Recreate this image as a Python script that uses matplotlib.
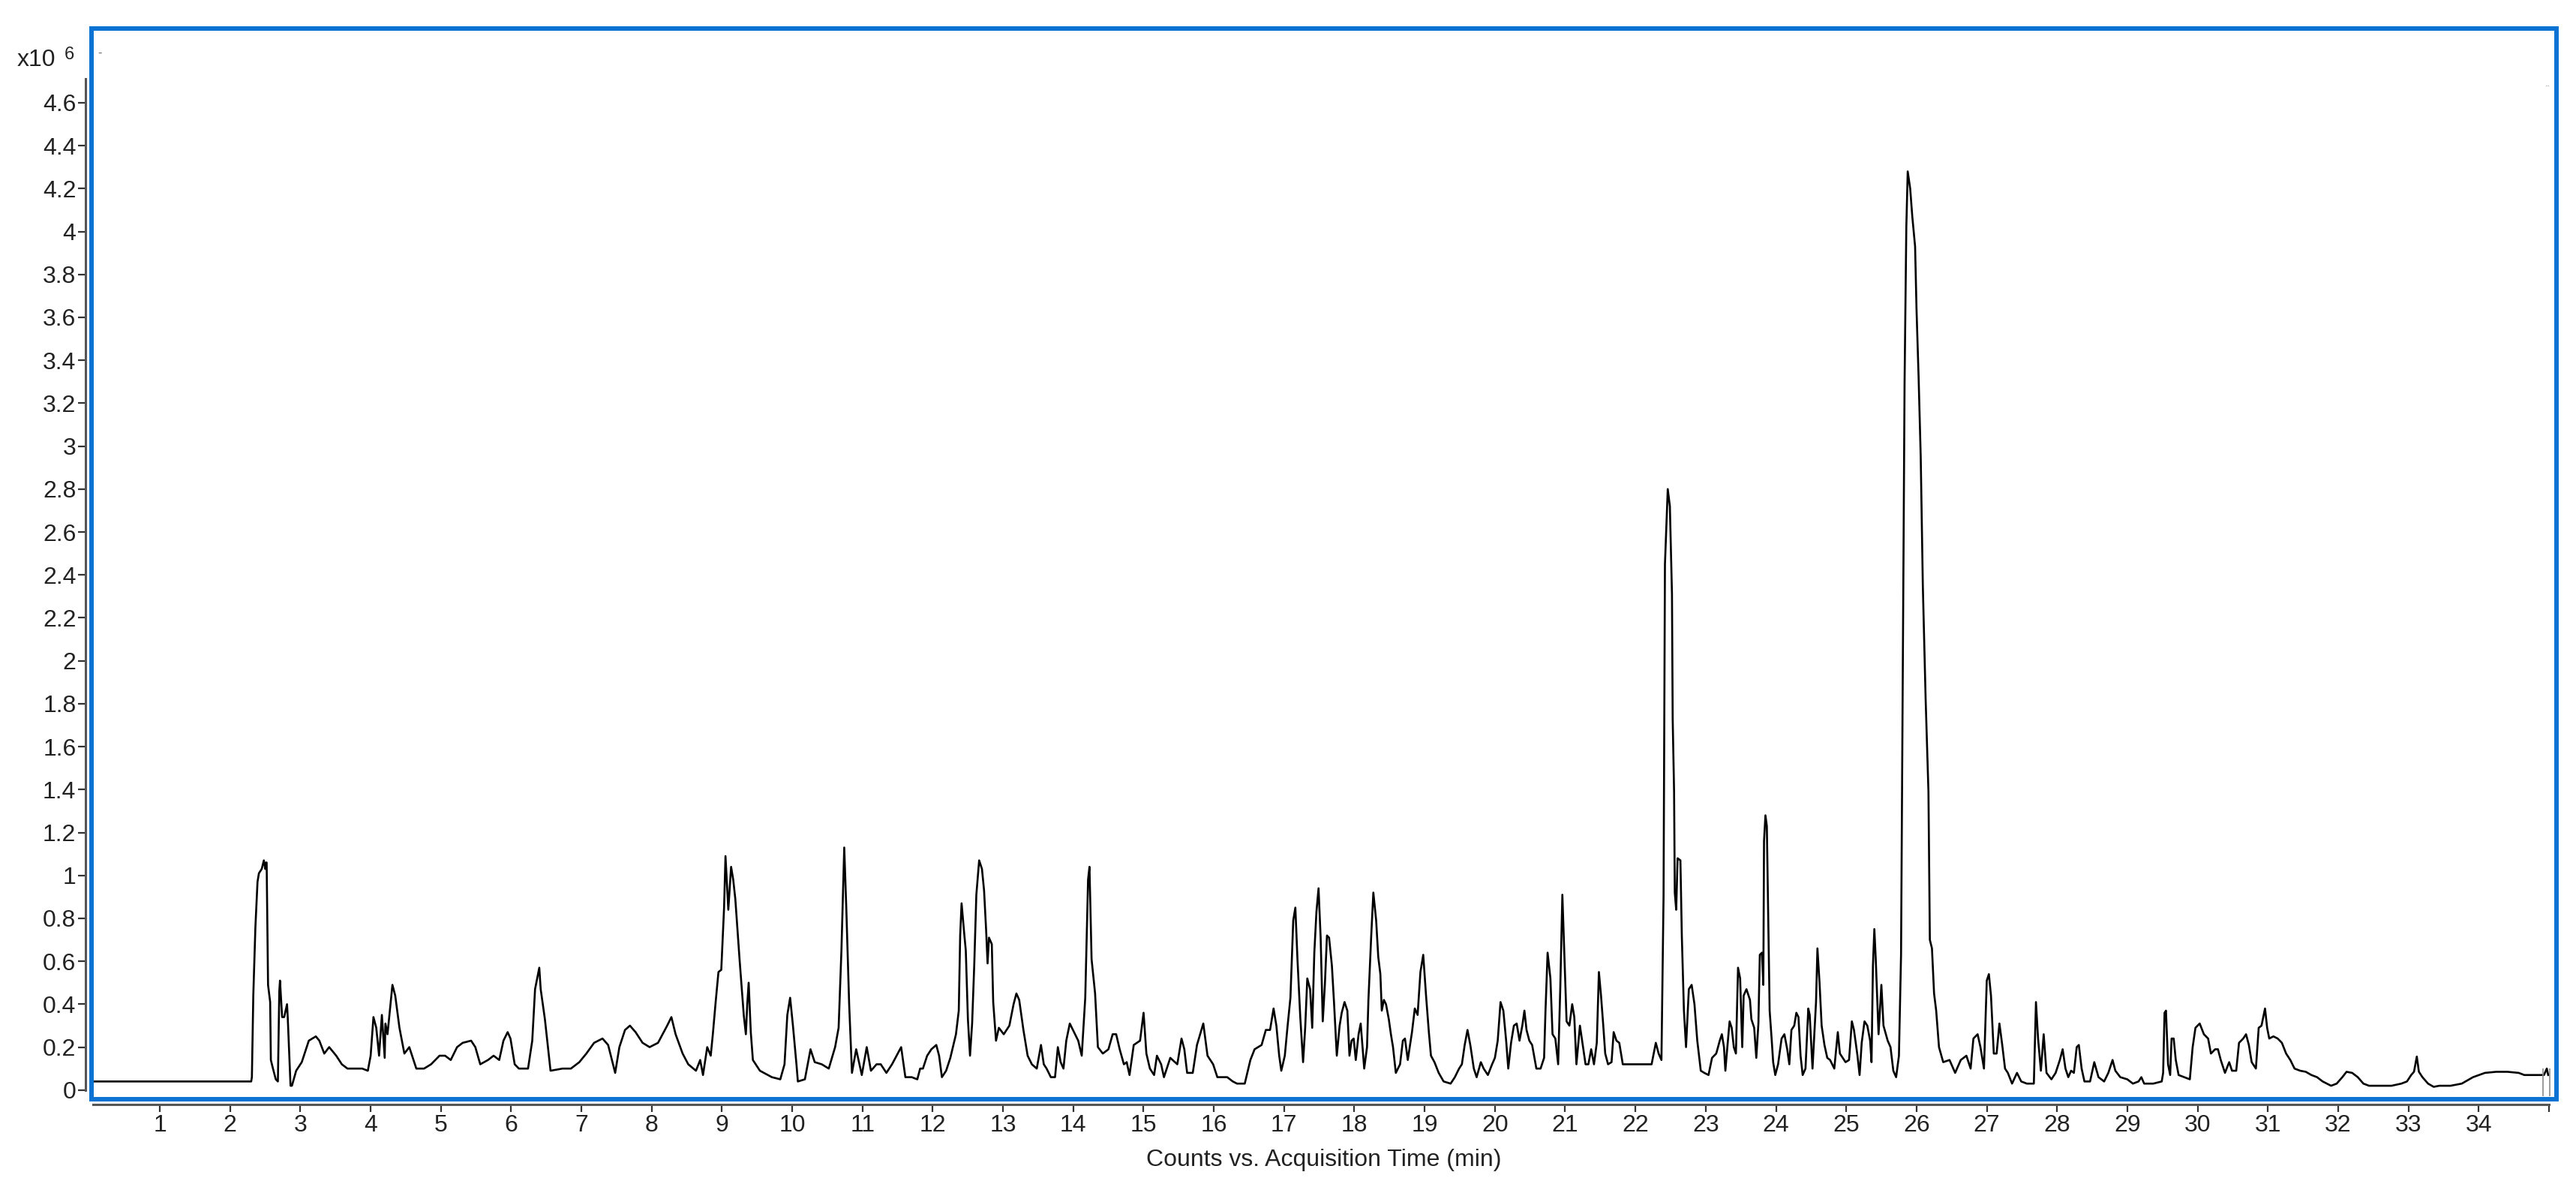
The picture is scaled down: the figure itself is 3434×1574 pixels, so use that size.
import numpy as np
import matplotlib
matplotlib.use("Agg")
import matplotlib.pyplot as plt
from matplotlib.patches import Rectangle

# retention time (min), counts (x10^6)
seg_0_6 = [(0.05, 0.04), (2.30, 0.04), (2.31, 0.06), (2.33, 0.44), (2.36, 0.76), (2.39, 0.97), (2.41, 1.01),
           (2.45, 1.03), (2.48, 1.07), (2.50, 1.03), (2.51, 1.06), (2.52, 1.06), (2.54, 0.49), (2.57, 0.41),
           (2.58, 0.14), (2.61, 0.10), (2.65, 0.05), (2.68, 0.04), (2.70, 0.46), (2.71, 0.51), (2.74, 0.34),
           (2.77, 0.34), (2.81, 0.40), (2.82, 0.34), (2.86, 0.02), (2.88, 0.02), (2.94, 0.09), (3.02, 0.13),
           (3.06, 0.17), (3.12, 0.23), (3.22, 0.25), (3.27, 0.23), (3.34, 0.17), (3.41, 0.20), (3.51, 0.16),
           (3.59, 0.12), (3.67, 0.10), (3.88, 0.10), (3.96, 0.09), (4.00, 0.16), (4.04, 0.34), (4.08, 0.29),
           (4.12, 0.16), (4.16, 0.35), (4.20, 0.15), (4.21, 0.31), (4.24, 0.26), (4.27, 0.36), (4.31, 0.49),
           (4.35, 0.44), (4.41, 0.29), (4.48, 0.17), (4.55, 0.20), (4.65, 0.10), (4.76, 0.10), (4.86, 0.12),
           (4.98, 0.16), (5.06, 0.16), (5.14, 0.14), (5.23, 0.20), (5.31, 0.22), (5.43, 0.23), (5.49, 0.20),
           (5.56, 0.12), (5.67, 0.14)]

seg_6_12 = [(5.75, 0.16), (5.83, 0.14), (5.89, 0.23), (5.95, 0.27), (5.99, 0.24), (6.05, 0.12), (6.11, 0.10),
            (6.24, 0.10), (6.30, 0.23), (6.34, 0.47), (6.40, 0.57), (6.42, 0.47), (6.48, 0.33), (6.56, 0.09),
            (6.73, 0.10), (6.85, 0.10), (6.97, 0.13), (7.07, 0.17), (7.18, 0.22), (7.30, 0.24), (7.38, 0.21),
            (7.48, 0.08), (7.54, 0.20), (7.62, 0.28), (7.69, 0.30), (7.77, 0.27), (7.87, 0.22), (7.97, 0.20),
            (8.09, 0.22), (8.22, 0.30), (8.28, 0.34), (8.34, 0.26), (8.44, 0.17), (8.52, 0.12), (8.63, 0.09),
            (8.69, 0.14), (8.73, 0.07), (8.79, 0.20), (8.84, 0.16), (8.87, 0.26), (8.91, 0.41), (8.95, 0.55),
            (8.99, 0.56), (9.03, 0.85), (9.05, 1.09), (9.09, 0.84), (9.13, 1.04), (9.16, 0.98), (9.19, 0.89),
            (9.22, 0.75), (9.25, 0.61), (9.28, 0.48), (9.31, 0.35), (9.34, 0.26), (9.36, 0.40), (9.38, 0.50),
            (9.41, 0.27), (9.44, 0.14), (9.54, 0.09), (9.71, 0.06), (9.83, 0.05), (9.89, 0.12), (9.93, 0.35),
            (9.97, 0.43), (10.01, 0.30), (10.06, 0.12), (10.08, 0.04), (10.18, 0.05), (10.22, 0.12), (10.26, 0.19),
            (10.32, 0.13), (10.42, 0.12), (10.52, 0.10), (10.61, 0.20), (10.66, 0.29), (10.70, 0.65), (10.74, 1.13),
            (10.77, 0.84), (10.81, 0.40), (10.85, 0.08), (10.91, 0.19), (10.99, 0.07), (11.06, 0.20), (11.12, 0.09),
            (11.20, 0.12), (11.26, 0.12), (11.34, 0.08), (11.42, 0.12), (11.55, 0.20), (11.61, 0.06)]

seg_12_17 = [(11.70, 0.06), (11.78, 0.05), (11.82, 0.10), (11.86, 0.10), (11.92, 0.16), (11.98, 0.19), (12.05, 0.21),
             (12.09, 0.16), (12.13, 0.06), (12.19, 0.09), (12.25, 0.15), (12.33, 0.26), (12.37, 0.37), (12.39, 0.72),
             (12.41, 0.87), (12.45, 0.72), (12.47, 0.65), (12.50, 0.33), (12.53, 0.16), (12.56, 0.31), (12.59, 0.58),
             (12.62, 0.91), (12.66, 1.07), (12.70, 1.03), (12.73, 0.93), (12.76, 0.74), (12.78, 0.59), (12.80, 0.71),
             (12.84, 0.68), (12.86, 0.41), (12.90, 0.23), (12.94, 0.29), (13.01, 0.26), (13.09, 0.30), (13.15, 0.40),
             (13.19, 0.45), (13.23, 0.42), (13.29, 0.28), (13.35, 0.16), (13.41, 0.12), (13.48, 0.10), (13.54, 0.21),
             (13.58, 0.12), (13.62, 0.10), (13.68, 0.06), (13.74, 0.06), (13.78, 0.20), (13.82, 0.13), (13.86, 0.10),
             (13.90, 0.23), (13.95, 0.31), (14.01, 0.27), (14.07, 0.23), (14.12, 0.16), (14.17, 0.43), (14.21, 0.98),
             (14.23, 1.04), (14.26, 0.61), (14.31, 0.45), (14.35, 0.20), (14.42, 0.17), (14.50, 0.19), (14.56, 0.26),
             (14.61, 0.26), (14.66, 0.19), (14.72, 0.12), (14.76, 0.13), (14.80, 0.07), (14.86, 0.21), (14.95, 0.23),
             (15.00, 0.36), (15.04, 0.17), (15.09, 0.10), (15.15, 0.07), (15.19, 0.16), (15.25, 0.12), (15.29, 0.06),
             (15.38, 0.15), (15.48, 0.12), (15.54, 0.24), (15.58, 0.19), (15.62, 0.08), (15.70, 0.08), (15.76, 0.21),
             (15.85, 0.31), (15.91, 0.16), (15.99, 0.12), (16.05, 0.06), (16.13, 0.06), (16.19, 0.06), (16.27, 0.04),
             (16.33, 0.03), (16.44, 0.03), (16.52, 0.14), (16.58, 0.19), (16.68, 0.21), (16.74, 0.28), (16.80, 0.28),
             (16.85, 0.38), (16.89, 0.30), (16.93, 0.16), (16.96, 0.09), (17.01, 0.16), (17.05, 0.30), (17.09, 0.43),
             (17.13, 0.79), (17.16, 0.85), (17.19, 0.61), (17.23, 0.34), (17.27, 0.13), (17.30, 0.29), (17.33, 0.52),
             (17.37, 0.47), (17.40, 0.29)]

seg_17_23 = [(17.43, 0.64), (17.46, 0.83), (17.49, 0.94), (17.52, 0.71), (17.55, 0.32), (17.58, 0.49), (17.61, 0.72),
             (17.64, 0.71), (17.68, 0.58), (17.71, 0.41), (17.75, 0.16), (17.79, 0.30), (17.82, 0.36), (17.86, 0.41),
             (17.90, 0.37), (17.93, 0.16), (17.96, 0.23), (17.99, 0.24), (18.02, 0.14), (18.06, 0.26), (18.09, 0.31),
             (18.14, 0.10), (18.18, 0.20), (18.20, 0.42), (18.24, 0.72), (18.27, 0.92), (18.31, 0.79), (18.34, 0.62),
             (18.37, 0.54), (18.39, 0.37), (18.42, 0.42), (18.45, 0.40), (18.49, 0.33), (18.52, 0.26), (18.55, 0.20),
             (18.59, 0.08), (18.65, 0.12), (18.69, 0.23), (18.72, 0.24), (18.76, 0.14), (18.82, 0.27), (18.86, 0.38),
             (18.90, 0.35), (18.94, 0.55), (18.98, 0.63), (19.02, 0.44), (19.06, 0.27), (19.09, 0.16), (19.14, 0.13),
             (19.20, 0.08), (19.27, 0.04), (19.37, 0.03), (19.43, 0.06), (19.49, 0.10), (19.53, 0.12), (19.57, 0.21),
             (19.61, 0.28), (19.65, 0.21), (19.70, 0.10), (19.74, 0.06), (19.80, 0.13), (19.84, 0.10), (19.90, 0.07),
             (19.96, 0.12), (20.00, 0.15), (20.04, 0.23), (20.08, 0.41), (20.12, 0.37), (20.16, 0.23), (20.19, 0.10),
             (20.23, 0.22), (20.27, 0.30), (20.31, 0.31), (20.35, 0.23), (20.39, 0.30), (20.42, 0.37), (20.45, 0.28),
             (20.49, 0.23), (20.53, 0.21), (20.59, 0.10), (20.65, 0.10), (20.70, 0.15), (20.72, 0.37), (20.75, 0.64),
             (20.79, 0.52), (20.82, 0.26), (20.86, 0.24), (20.90, 0.12), (20.93, 0.47), (20.96, 0.91), (20.99, 0.62),
             (21.02, 0.32), (21.06, 0.30), (21.10, 0.40), (21.13, 0.34), (21.16, 0.12), (21.21, 0.30), (21.25, 0.21),
             (21.29, 0.12), (21.33, 0.12), (21.37, 0.19), (21.41, 0.12), (21.45, 0.22), (21.48, 0.55), (21.51, 0.44),
             (21.54, 0.31), (21.57, 0.17), (21.61, 0.12), (21.66, 0.13), (21.69, 0.27), (21.73, 0.23), (21.77, 0.22),
             (21.82, 0.12), (21.90, 0.12), (22.06, 0.12), (22.23, 0.12), (22.29, 0.22), (22.33, 0.17), (22.37, 0.14),
             (22.40, 0.90), (22.42, 2.45), (22.46, 2.80), (22.49, 2.72), (22.52, 2.31), (22.53, 1.73), (22.55, 1.39),
             (22.56, 0.92), (22.58, 0.84), (22.60, 1.08), (22.64, 1.07), (22.66, 0.72), (22.69, 0.37), (22.72, 0.20),
             (22.76, 0.47), (22.80, 0.49), (22.84, 0.40), (22.88, 0.23), (22.93, 0.09), (22.98, 0.08), (23.04, 0.07),
             (23.09, 0.15), (23.15, 0.17), (23.20, 0.23), (23.23, 0.26), (23.26, 0.20)]

seg_23_29 = [(23.28, 0.09), (23.30, 0.17), (23.34, 0.32), (23.37, 0.29), (23.40, 0.20), (23.43, 0.17), (23.46, 0.57),
             (23.49, 0.52), (23.52, 0.20), (23.54, 0.44), (23.58, 0.47), (23.63, 0.42), (23.65, 0.33), (23.69, 0.29),
             (23.72, 0.15), (23.75, 0.31), (23.77, 0.63), (23.80, 0.64), (23.82, 0.49), (23.83, 1.16), (23.85, 1.28),
             (23.87, 1.23), (23.89, 0.81), (23.91, 0.37), (23.94, 0.23), (23.96, 0.13), (23.99, 0.07), (24.03, 0.12),
             (24.08, 0.24), (24.12, 0.26), (24.16, 0.19), (24.19, 0.12), (24.22, 0.28), (24.26, 0.30), (24.29, 0.36),
             (24.32, 0.34), (24.35, 0.16), (24.38, 0.07), (24.42, 0.10), (24.46, 0.38), (24.48, 0.35), (24.52, 0.10),
             (24.57, 0.41), (24.59, 0.66), (24.62, 0.50), (24.65, 0.30), (24.69, 0.21), (24.73, 0.15), (24.77, 0.14),
             (24.83, 0.10), (24.88, 0.27), (24.91, 0.17), (24.95, 0.15), (24.99, 0.13), (25.04, 0.14), (25.08, 0.32),
             (25.11, 0.28), (25.16, 0.16), (25.19, 0.07), (25.22, 0.22), (25.26, 0.32), (25.30, 0.30), (25.34, 0.23),
             (25.36, 0.13), (25.38, 0.58), (25.40, 0.75), (25.42, 0.61), (25.46, 0.26), (25.50, 0.49), (25.53, 0.30),
             (25.59, 0.23), (25.63, 0.20), (25.67, 0.09), (25.71, 0.06), (25.75, 0.16), (25.78, 0.63), (25.83, 3.29),
             (25.855, 4.02), (25.875, 4.28), (25.91, 4.20), (25.94, 4.07), (25.98, 3.93), (26.00, 3.64), (26.03, 3.32),
             (26.06, 2.95), (26.09, 2.35), (26.13, 1.82), (26.17, 1.39), (26.19, 0.70), (26.22, 0.66), (26.25, 0.45),
             (26.28, 0.37), (26.32, 0.20), (26.38, 0.13), (26.47, 0.14), (26.55, 0.08), (26.63, 0.14), (26.71, 0.16),
             (26.77, 0.10), (26.81, 0.24), (26.87, 0.26), (26.91, 0.20), (26.96, 0.10), (27.00, 0.51), (27.03, 0.54),
             (27.06, 0.44), (27.10, 0.17), (27.14, 0.17), (27.18, 0.31), (27.22, 0.21), (27.26, 0.10), (27.30, 0.08),
             (27.36, 0.03), (27.43, 0.08), (27.49, 0.04), (27.57, 0.03), (27.67, 0.03), (27.70, 0.41), (27.73, 0.24),
             (27.77, 0.09), (27.81, 0.26), (27.85, 0.08), (27.92, 0.05), (27.98, 0.08), (28.04, 0.14), (28.08, 0.19),
             (28.12, 0.10), (28.16, 0.06), (28.20, 0.09), (28.24, 0.08), (28.28, 0.20), (28.31, 0.21), (28.35, 0.10),
             (28.39, 0.04), (28.47, 0.04), (28.53, 0.13), (28.59, 0.06), (28.67, 0.04), (28.73, 0.08), (28.79, 0.14),
             (28.83, 0.09), (28.90, 0.06), (29.00, 0.05), (29.08, 0.03), (29.16, 0.04), (29.20, 0.06), (29.24, 0.03),
             (29.37, 0.03), (29.49, 0.04)]

seg_29_35 = [(29.51, 0.08), (29.53, 0.36), (29.55, 0.37), (29.58, 0.12), (29.61, 0.07), (29.63, 0.24), (29.66, 0.24),
             (29.69, 0.14), (29.73, 0.07), (29.81, 0.06), (29.89, 0.05), (29.93, 0.20), (29.97, 0.29), (30.03, 0.31),
             (30.09, 0.26), (30.15, 0.24), (30.19, 0.17), (30.25, 0.19), (30.29, 0.19), (30.33, 0.14), (30.39, 0.08),
             (30.45, 0.13), (30.49, 0.09), (30.55, 0.09), (30.59, 0.22), (30.65, 0.24), (30.69, 0.26), (30.73, 0.21),
             (30.77, 0.13), (30.83, 0.10), (30.87, 0.29), (30.91, 0.30), (30.96, 0.38), (30.99, 0.29), (31.02, 0.24),
             (31.08, 0.25), (31.14, 0.24), (31.20, 0.22), (31.26, 0.17), (31.32, 0.14), (31.38, 0.10), (31.46, 0.09),
             (31.54, 0.085), (31.62, 0.07), (31.70, 0.06), (31.78, 0.04), (31.90, 0.02), (31.98, 0.03), (32.06, 0.06),
             (32.12, 0.085), (32.20, 0.08), (32.28, 0.06), (32.36, 0.03), (32.44, 0.02), (32.60, 0.02), (32.76, 0.02),
             (32.90, 0.03), (32.98, 0.04), (33.04, 0.07), (33.08, 0.085), (33.12, 0.156), (33.15, 0.085), (33.20, 0.06),
             (33.28, 0.03), (33.36, 0.015), (33.44, 0.02), (33.60, 0.02), (33.76, 0.03), (33.92, 0.06), (34.09, 0.08),
             (34.25, 0.085), (34.41, 0.085), (34.57, 0.08), (34.65, 0.07), (34.81, 0.07), (34.93, 0.07), (34.97, 0.10),
             (34.99, 0.07)]

end_marks = [34.92, 35.01]
x_ticks = list(range(1, 36))
x_labels = [str(i) for i in range(1, 35)] + [""]
y_ticks = [round(0.2 * i, 1) for i in range(24)]

trace = np.array(seg_0_6 + seg_6_12 + seg_12_17 + seg_17_23 + seg_23_29 + seg_29_35)
rt = trace[:, 0]
counts = trace[:, 1]

plt.rcParams['font.family'] = ['Liberation Sans', 'DejaVu Sans']
blue = '#0a72d2'
axis_grey = '#555555'

fig = plt.figure(figsize=(34.34, 15.74), dpi=100)
ax = fig.add_axes([0.0354, 0.0692, 0.9570, 0.9067])

ax.plot(rt, counts, color='black', lw=1.9)
ax.vlines(end_marks, -0.03, 0.1, color='#8a8a8a', lw=1.2)

ax.set_xlim(0.023, 35.107)
ax.set_ylim(-0.043, 4.946)

for s in ['top', 'right']:
    ax.spines[s].set_visible(False)
ax.spines['left'].set_position(('outward', 5.5))
ax.spines['bottom'].set_position(('outward', 5))
ax.spines['left'].set_bounds(0, 4.71)
ax.spines['bottom'].set_bounds(0.05, 35.0)
for s in ['left', 'bottom']:
    ax.spines[s].set_color(axis_grey)
    ax.spines[s].set_linewidth(2.2)

ax.set_xticks(x_ticks)
ax.set_xticklabels(x_labels)
ax.set_yticks(y_ticks)
ax.set_yticklabels([f"{v:g}" for v in y_ticks])
ax.tick_params(axis='both', colors='#222222', labelsize=23, width=1.6, length=7, pad=2)
ax.tick_params(axis='both', color='#333333')

ax.set_xlabel('Counts vs. Acquisition Time (min)', fontsize=23, color='#222222', labelpad=12)

ax.add_patch(Rectangle((0, 0), 1, 1, transform=ax.transAxes, fill=False,
                       edgecolor=blue, lw=4.3, clip_on=False, zorder=5))

fig.text(0.0067, 0.944, 'x10', fontsize=23, color='#222222', ha='left', va='baseline')
fig.text(0.0250, 0.950, '6', fontsize=17, color='#222222', ha='left', va='baseline')
fig.text(0.0378, 0.952, '-', fontsize=12, color='#666666', ha='left', va='baseline')
fig.text(0.9880, 0.927, '..', fontsize=9, color='#888888', ha='left', va='baseline')

fig.savefig('out.png', dpi=100)
